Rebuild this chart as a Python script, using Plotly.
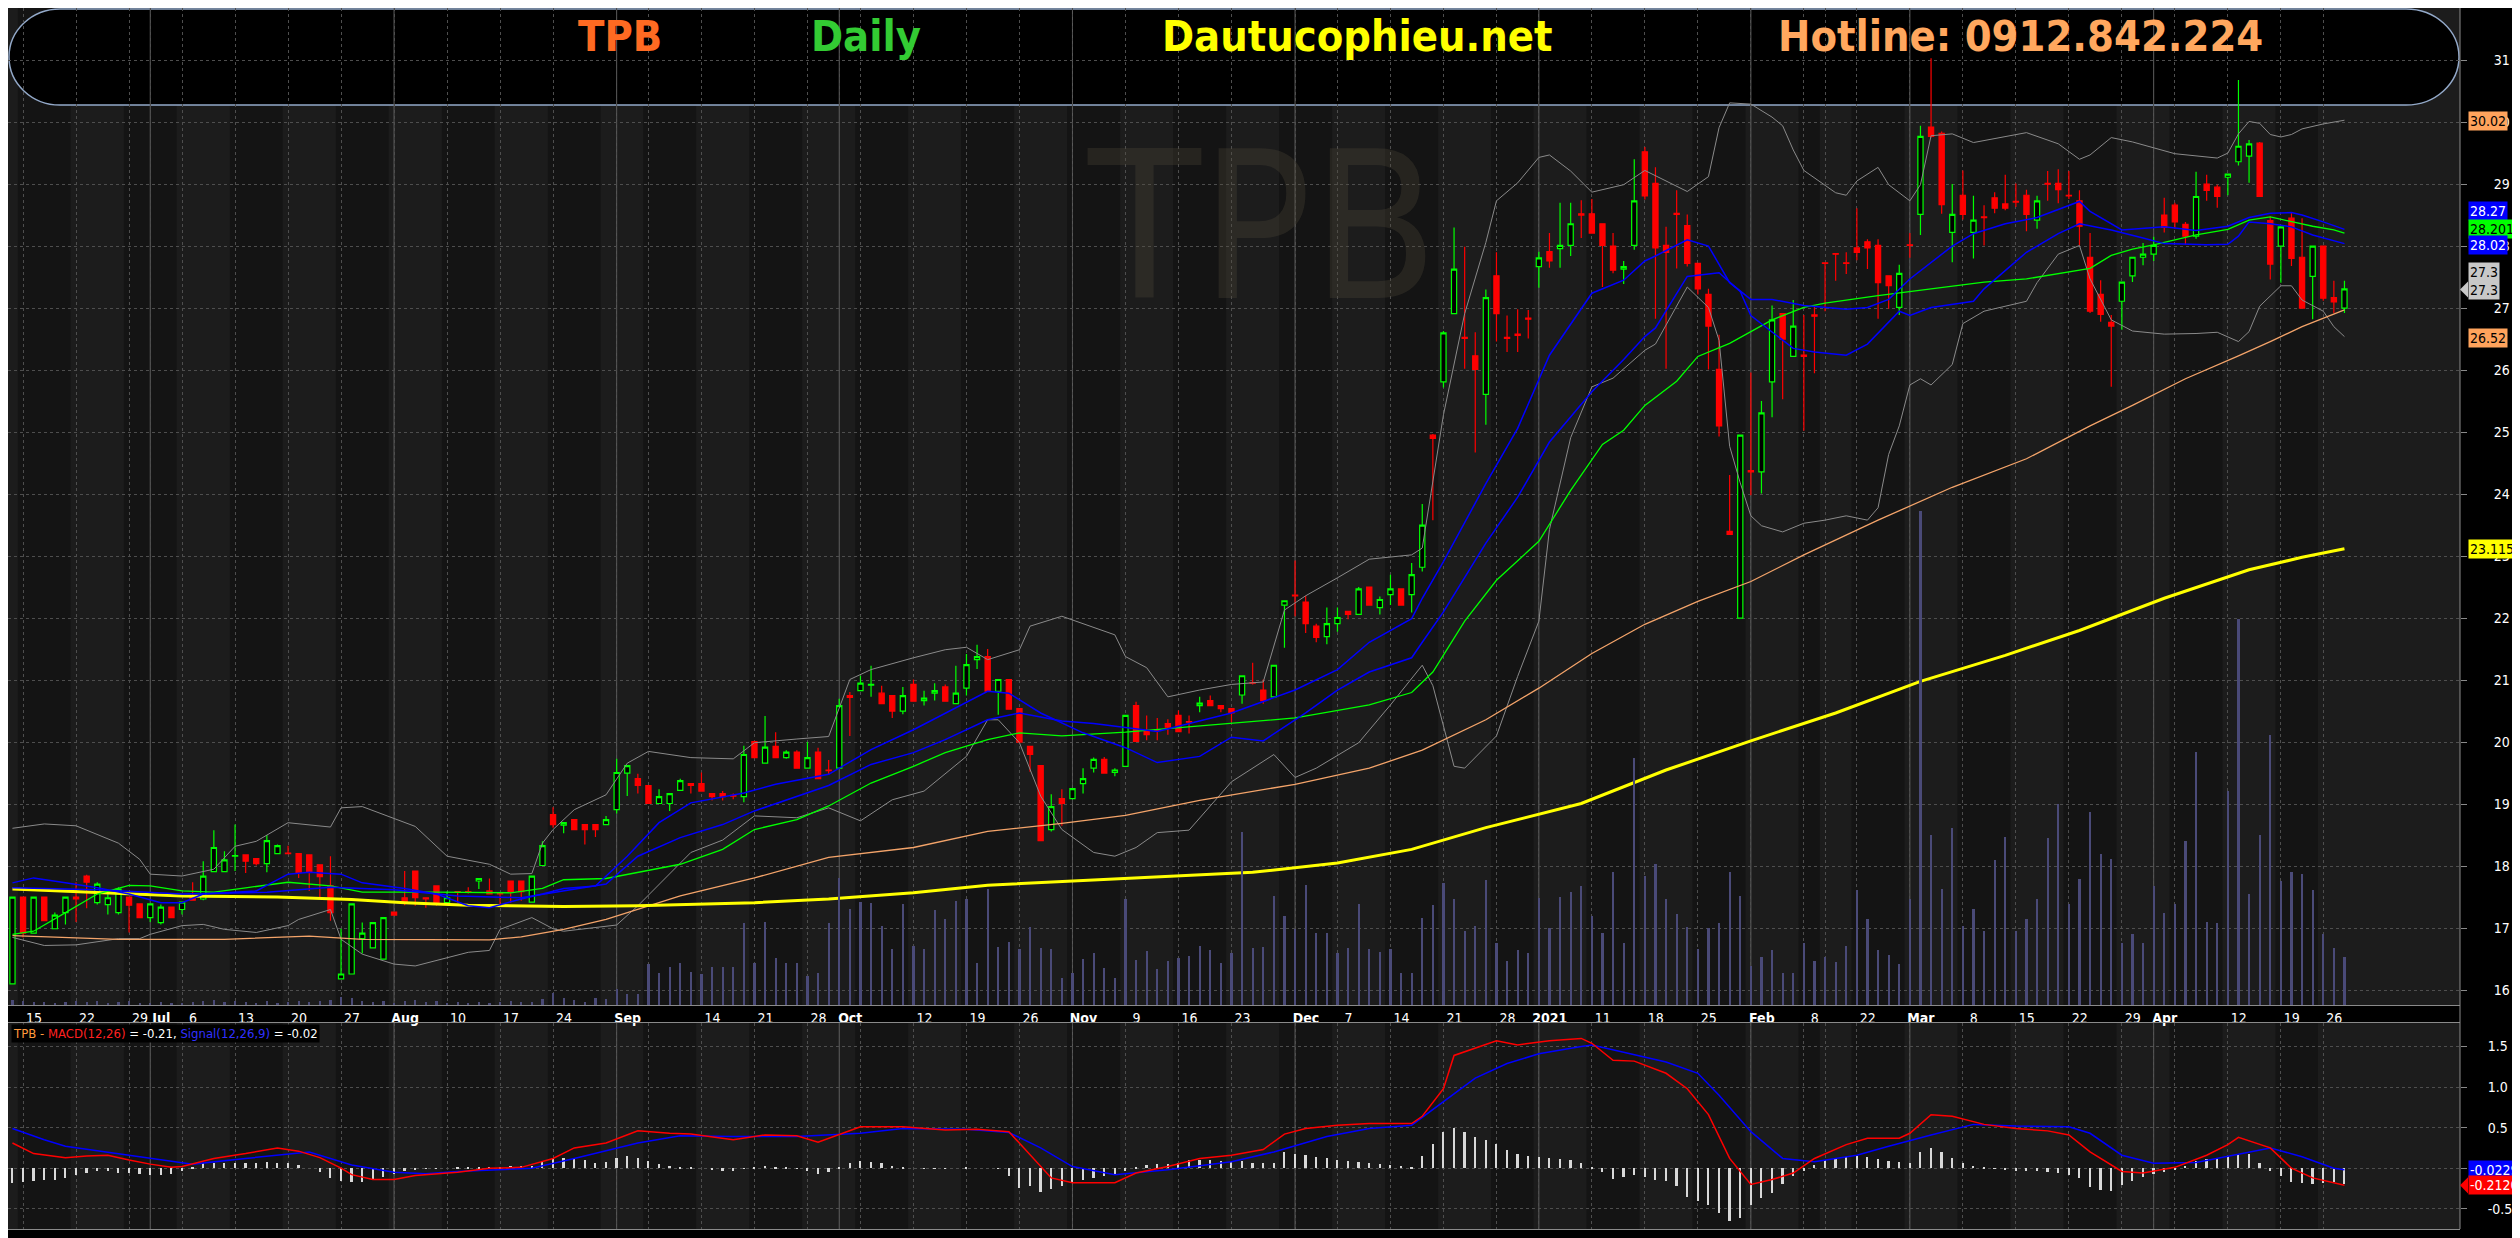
import pandas as pd
import plotly.graph_objects as go

# ---- trading calendar (HOSE) ----
START, END = "2020-06-12", "2021-04-28"
HOLIDAYS = ["2020-09-02", "2021-01-01", "2021-02-10", "2021-02-11", "2021-02-12",
            "2021-02-15", "2021-02-16", "2021-04-21"]
dates = [d.strftime("%Y-%m-%d") for d in pd.bdate_range(START, END)
         if d.strftime("%Y-%m-%d") not in HOLIDAYS]

# ---- OHLC ----
opens = [16.10,17.50,16.92,17.50,16.99,17.25,17.50,17.84,17.41,17.38,
         17.25,17.50,17.39,17.17,17.09,17.34,17.30,17.50,17.47,17.91,
         17.91,18.16,18.18,18.12,18.04,18.20,18.21,18.20,18.18,18.02,
         17.68,16.18,16.26,16.83,16.68,16.50,17.26,17.49,17.92,17.49,
         17.68,17.41,17.59,17.59,17.76,17.60,17.56,17.76,17.76,17.42,
         18.01,18.83,18.66,18.75,18.67,18.67,18.67,18.91,19.50,19.41,
         19.30,19.01,19.01,19.22,19.33,19.33,19.17,19.17,19.14,19.12,
         20.01,19.66,19.93,19.75,19.84,19.58,19.84,19.55,19.58,20.75,
         20.83,20.92,20.79,20.75,20.50,20.93,20.67,20.79,20.89,20.62,
         20.87,21.33,21.38,20.82,21.01,20.54,19.93,19.62,18.59,19.09,
         19.09,19.33,19.58,19.72,19.51,19.61,20.59,20.17,20.20,20.30,
         20.43,20.33,20.59,20.67,20.59,20.54,20.76,20.96,20.84,20.73,
         22.21,22.37,22.26,21.87,21.70,21.91,22.11,22.06,22.50,22.17,
         22.38,22.47,22.38,22.82,24.95,25.81,26.91,26.53,26.23,25.61,
         27.52,26.53,26.58,26.84,27.67,27.91,27.96,28.01,28.52,28.52,
         28.36,28.00,27.63,28.01,29.52,29.01,28.01,28.53,28.33,27.72,
         27.22,26.01,23.40,22.00,24.38,24.36,25.81,26.91,26.22,26.24,
         26.89,27.73,27.88,27.73,27.97,28.07,28.01,27.52,27.01,28.02,
         28.51,29.92,29.82,28.22,28.82,28.22,28.47,28.78,28.68,28.72,
         28.82,28.42,29.01,29.01,28.82,28.73,27.82,27.22,26.77,27.11,
         27.52,27.82,27.87,28.50,28.66,28.35,28.16,29.00,28.95,29.11,
         29.36,29.45,29.66,28.41,28.00,28.45,27.82,27.51,28.00,27.17,
         27.00]
highs = [17.50,17.50,17.50,17.50,17.25,17.50,17.74,17.86,17.74,17.58,
         17.66,17.50,17.39,17.39,17.38,17.34,17.42,17.74,18.08,18.58,
         18.24,18.67,18.18,18.12,18.50,18.35,18.33,18.20,18.18,18.02,
         18.16,16.99,17.39,17.09,17.09,17.17,17.26,17.92,17.92,17.49,
         17.68,17.59,17.59,17.66,17.80,17.80,17.56,17.76,17.76,17.84,
         18.40,18.95,18.70,18.75,18.67,18.67,18.81,19.73,19.62,19.49,
         19.30,19.24,19.17,19.41,19.33,19.51,19.17,19.21,19.17,19.94,
         20.01,20.42,20.16,19.87,19.87,20.00,19.91,19.71,20.70,20.81,
         21.07,21.23,20.91,20.75,20.89,21.01,20.83,20.95,20.93,21.23,
         21.42,21.57,21.50,21.01,21.01,20.54,19.93,19.62,19.16,19.24,
         19.25,19.58,19.75,19.76,19.58,20.43,20.65,20.43,20.39,20.37,
         20.51,20.43,20.73,20.75,20.59,20.54,21.07,21.28,21.01,21.24,
         22.28,22.93,22.36,21.91,22.17,22.17,22.11,22.50,22.50,22.35,
         22.70,22.47,22.89,23.84,24.97,26.63,28.30,27.99,26.61,27.30,
         27.90,26.88,26.98,26.97,27.91,28.21,28.70,28.70,28.74,28.76,
         28.36,28.21,27.76,29.40,29.60,29.27,28.31,28.90,28.51,27.72,
         27.31,26.57,24.31,24.95,25.96,25.50,27.04,26.91,27.13,26.89,
         27.03,27.73,27.88,27.90,28.61,28.11,28.11,27.52,27.70,28.21,
         29.94,31.03,29.85,29.00,29.22,28.81,28.66,28.87,29.15,29.01,
         28.91,28.81,29.21,29.24,29.21,28.90,28.21,27.45,26.89,27.42,
         27.82,28.05,28.15,28.78,28.70,28.39,29.20,29.15,28.99,29.16,
         30.68,29.71,29.68,28.48,28.31,28.54,28.45,28.00,28.00,27.44,
         27.44]
lows = [16.10,16.85,16.92,17.12,16.99,17.06,17.10,17.32,17.38,17.22,
        17.22,16.93,17.17,17.10,17.06,17.17,17.22,17.45,17.45,17.91,
        17.91,17.92,17.89,18.01,17.90,18.20,18.20,17.81,17.60,17.50,
        17.12,16.18,16.26,16.59,16.68,16.50,17.21,17.37,17.36,17.33,
        17.36,17.41,17.41,17.56,17.63,17.55,17.34,17.41,17.44,17.42,
        18.01,18.62,18.53,18.59,18.35,18.47,18.67,18.85,19.13,19.17,
        19.01,19.01,18.89,19.22,19.17,19.21,19.06,19.06,19.08,19.03,
        19.75,19.66,19.75,19.73,19.58,19.58,19.41,19.47,19.58,20.10,
        20.83,20.73,20.62,20.39,20.45,20.66,20.59,20.67,20.66,20.62,
        20.75,21.18,20.82,20.44,20.53,20.00,19.52,18.41,18.56,18.65,
        19.09,19.17,19.51,19.50,19.45,19.61,20.01,20.03,20.03,20.12,
        20.17,20.14,20.48,20.59,20.48,20.32,20.62,20.93,20.62,20.73,
        21.52,22.03,21.76,21.61,21.58,21.78,21.98,22.06,22.21,22.06,
        22.21,22.21,22.09,22.75,23.58,25.72,26.91,26.02,24.67,25.12,
        26.46,26.29,26.29,26.51,27.33,27.65,27.65,27.84,28.13,28.21,
        27.34,27.56,27.39,27.94,28.75,26.83,26.02,27.64,27.67,27.22,
        26.01,24.93,23.35,22.00,23.98,24.01,25.24,25.53,26.22,25.02,
        25.95,26.95,27.44,27.55,27.77,27.63,26.83,26.99,26.89,27.81,
        28.18,29.75,28.52,27.74,28.43,27.80,28.01,28.53,28.58,28.63,
        28.24,28.28,28.73,28.69,28.76,28.01,26.92,26.78,25.73,26.65,
        27.42,27.69,27.76,28.22,28.28,28.02,28.12,28.73,28.62,28.82,
        29.30,29.02,28.80,27.46,27.41,27.68,27.00,26.82,27.12,26.92,
        26.92]
closes = [17.50,16.92,17.50,17.12,17.21,17.50,17.47,17.74,17.71,17.49,
          17.63,17.37,17.17,17.39,17.34,17.17,17.42,17.45,17.84,18.30,
          18.10,18.17,18.08,18.04,18.41,18.33,18.20,17.90,17.90,17.83,
          17.25,16.26,17.39,16.92,17.09,17.17,17.21,17.41,17.49,17.47,
          17.41,17.49,17.58,17.58,17.80,17.55,17.55,17.59,17.59,17.84,
          18.33,18.67,18.70,18.59,18.59,18.59,18.75,19.51,19.62,19.30,
          19.01,19.12,19.17,19.38,19.30,19.21,19.12,19.12,19.13,19.80,
          19.75,19.92,19.75,19.84,19.58,19.75,19.41,19.54,20.59,20.72,
          20.95,20.93,20.62,20.50,20.75,20.66,20.71,20.83,20.66,20.79,
          21.25,21.38,20.82,21.01,20.53,20.00,19.80,18.41,18.96,19.01,
          19.25,19.41,19.72,19.50,19.55,20.43,20.01,20.12,20.19,20.24,
          20.17,20.32,20.63,20.59,20.54,20.47,21.07,20.95,20.67,21.24,
          22.28,22.36,21.91,21.69,21.91,22.01,22.06,22.47,22.21,22.30,
          22.47,22.21,22.70,23.50,24.90,26.60,27.63,26.51,26.01,27.17,
          26.91,26.51,26.56,26.82,27.81,27.76,28.01,28.36,28.50,28.21,
          28.01,27.61,27.67,28.73,28.81,27.97,27.90,28.51,27.72,27.31,
          26.71,25.10,23.35,24.95,24.36,25.31,26.81,26.50,26.71,26.22,
          26.87,27.72,27.87,27.72,27.90,27.97,27.41,27.36,27.56,28.01,
          29.77,29.77,28.67,28.51,28.51,28.42,28.46,28.61,28.61,28.71,
          28.51,28.73,29.00,28.91,28.81,28.32,26.95,26.90,26.71,27.42,
          27.82,27.87,28.01,28.30,28.39,28.16,28.80,28.90,28.80,29.16,
          29.61,29.65,28.80,27.71,28.31,27.80,27.00,28.00,27.16,27.10,
          27.31]

# volume, million shares
volume = [0.06,0.05,0.04,0.04,0.03,0.04,0.05,0.04,0.05,0.03,
          0.04,0.05,0.03,0.03,0.04,0.03,0.03,0.04,0.05,0.06,
          0.04,0.05,0.04,0.03,0.05,0.03,0.04,0.05,0.04,0.05,
          0.06,0.10,0.08,0.05,0.04,0.05,0.03,0.05,0.06,0.04,
          0.05,0.03,0.04,0.03,0.04,0.03,0.04,0.05,0.04,
          0.04,0.07,0.15,0.09,0.06,0.04,0.09,0.07,0.19,0.13,
          0.13,0.49,0.38,0.46,0.51,0.40,0.37,0.46,0.46,0.46,
          0.99,0.51,1.00,0.57,0.50,0.51,0.35,0.38,0.99,1.53,
          1.16,1.24,1.23,0.95,0.67,1.21,0.71,0.67,1.14,1.03,
          1.25,1.28,0.51,1.40,0.70,0.76,0.68,0.94,0.69,0.68,
          0.32,0.38,0.55,0.63,0.44,0.33,1.28,
          0.54,0.65,0.43,0.53,0.57,0.59,0.71,0.66,0.50,0.62,
          2.08,0.69,0.70,1.31,1.07,0.91,1.45,0.87,0.87,0.62,
          0.69,1.22,0.67,0.64,0.67,0.38,0.39,1.05,1.20,1.47,
          1.27,0.89,0.95,1.51,0.75,0.53,0.66,0.62,1.29,0.93,
          1.30,1.36,1.43,1.07,0.87,1.60,0.75,2.97,1.55,1.70,
          1.27,1.09,0.94,0.67,0.93,0.99,1.60,1.31,0.47,0.58,
          0.66,0.38,0.38,0.75,0.53,0.58,0.52,0.71,1.39,1.03,
          0.66,0.60,0.49,1.28,5.94,2.05,1.40,2.13,0.95,1.16,
          0.89,1.74,2.02,0.89,1.04,1.28,2.01,2.42,1.21,1.52,
          2.32,1.82,1.76,0.75,0.85,0.75,1.43,1.11,1.21,1.98,
          3.05,1.00,0.99,2.58,4.64,1.34,2.05,3.25,1.49,1.60,
          1.58,1.39,0.85,0.69,0.58]

# ---- indicator lines, sampled along the chart (trading-day number, value) ----
ma200_day = [0,8,16,25,32,37,43,52,59,70,77,85,92,101,110,117,125,132,139,148,
             156,164,172,180,188,195,203,211,216,220]
ma200_val = [17.63,17.58,17.52,17.50,17.46,17.41,17.37,17.35,17.36,17.41,17.47,17.57,17.69,17.77,
             17.84,17.90,18.05,18.27,18.62,19.01,19.55,20.02,20.47,20.98,21.40,21.80,22.32,22.78,
             22.98,23.12]

ma50_day = [0,10,20,28,33,45,48,52,56,63,70,77,85,92,99,105,112,121,128,133,
            139,144,149,154,159,164,169,176,183,190,196,200,205,208,210,213,216,220]
ma50_val = [16.88,16.82,16.82,16.87,16.82,16.81,16.86,16.98,17.14,17.52,17.81,18.14,18.30,18.56,
            18.69,18.82,19.06,19.32,19.58,19.87,20.36,20.87,21.43,21.90,22.27,22.59,23.02,23.58,
            24.11,24.57,25.10,25.43,25.86,26.08,26.23,26.46,26.70,26.97]

bbu_day = [0,3,6,10,12,13,16,19,21,23,26,30,31,33,38,41,45,47,49,50,
           51,53,56,58,60,64,68,70,74,77,79,81,85,88,90,92,95,96,99,102,
           104,105,107,109,112,115,118,120,122,125,128,132,133,135,137,139,140,142,144,145,
           147,149,152,154,156,158,160,161,162,164,166,167,168,169,172,173,174,176,177,179,
           180,181,183,185,190,193,195,196,198,200,204,208,209,210,211,212,213,214,215,216,
           218,220]
bbu_val = [18.61,18.68,18.65,18.37,18.11,17.87,17.84,17.95,18.32,18.40,
           18.70,18.63,18.94,18.96,18.64,18.16,18.03,17.87,17.88,18.37,
           18.59,18.91,19.15,19.66,19.85,19.75,19.73,19.99,20.05,20.09,
           21.01,21.17,21.36,21.49,21.53,21.33,21.49,21.87,22.03,21.85,
           21.73,21.38,21.20,20.73,20.84,20.93,20.97,22.13,22.36,22.65,
           22.95,23.02,23.13,25.28,26.91,28.06,28.73,29.02,29.43,29.47,
           29.21,28.87,28.99,29.22,29.05,28.88,29.12,29.91,30.31,30.29,
           30.08,29.94,29.55,29.22,28.86,28.82,29.05,29.27,28.99,28.73,
           28.99,29.78,29.81,29.67,29.83,29.65,29.40,29.47,29.75,29.68,
           29.49,29.42,29.50,29.81,30.01,29.98,29.80,29.76,29.80,29.89,
           29.97,30.03]

bbl_day = [0,3,6,10,12,13,16,18,20,23,26,27,30,31,33,36,38,40,43,45,
           46,49,51,52,57,59,64,67,70,74,77,80,83,86,90,92,93,95,97,99,
           102,104,106,108,111,115,119,121,123,127,130,133,134,136,137,140,142,144,145,147,
           149,151,154,155,158,160,161,162,163,164,165,167,169,171,173,175,176,177,178,179,
           180,181,183,184,186,190,191,193,195,196,198,200,203,206,208,210,211,212,214,215,
           216,218,219,220]
bbl_val = [16.85,16.72,16.73,16.83,16.83,16.90,17.04,17.06,16.98,16.93,
           17.04,17.14,17.30,16.82,16.58,16.42,16.39,16.48,16.61,16.64,
           16.98,17.17,16.99,16.95,17.05,17.36,18.22,18.42,18.81,18.78,
           18.94,18.73,19.07,19.21,19.77,20.36,20.36,19.99,19.13,18.59,
           18.22,18.16,18.30,18.54,18.58,19.36,19.80,19.43,19.58,19.99,
           20.60,21.24,20.91,19.61,19.58,20.10,21.06,21.95,23.43,24.91,
           25.73,25.87,26.32,26.42,27.34,27.01,26.48,24.77,24.18,23.65,
           23.49,23.39,23.53,23.58,23.65,23.58,23.78,24.64,25.10,25.76,
           25.86,25.76,26.09,26.75,26.95,27.11,27.41,27.87,28.01,27.47,
           26.81,26.63,26.58,26.59,26.61,26.46,26.62,27.03,27.36,27.36,
           27.13,26.95,26.70,26.54]

ma20_day = [0,2,5,8,11,13,16,19,22,26,30,33,40,47,50,52,56,63,67,70,
            74,77,81,85,88,92,95,99,105,112,121,128,132,134,137,140,144,147,150,152,
            154,157,159,162,166,169,171,176,180,183,186,190,193,196,198,200,202,204,206,209,
            211,213,215,217,219,220]
ma20_val = [16.90,16.95,17.25,17.55,17.69,17.68,17.60,17.58,17.65,17.74,
            17.68,17.58,17.58,17.57,17.64,17.78,17.80,18.03,18.27,18.59,
            18.75,18.97,19.34,19.61,19.83,20.04,20.15,20.10,20.16,20.26,
            20.39,20.60,20.80,21.13,21.95,22.61,23.24,24.06,24.80,25.03,
            25.43,25.82,26.22,26.43,26.81,27.01,27.08,27.20,27.29,27.35,
            27.42,27.47,27.55,27.64,27.85,27.95,28.02,28.10,28.18,28.27,
            28.42,28.47,28.39,28.32,28.26,28.21]

blue_a_day = [0,8,16,24,30,36,42,48,56,59,63,67,70,74,77,81,85,88,92,95,
              99,102,105,108,115,121,125,128,132,133,135,139,142,145,149,152,154,155,158,160,
              162,164,166,169,173,175,177,179,183,185,188,191,195,196,199,201,203,206,209,211,
              213,215,216,218,220]
blue_a_val = [17.65,17.62,17.55,17.58,17.66,17.62,17.52,17.49,17.71,18.16,
              18.46,18.67,18.89,19.13,19.30,19.64,19.83,20.04,20.36,20.47,
              20.34,20.30,20.23,20.17,20.47,20.84,21.17,21.61,21.99,22.32,
              22.91,24.17,25.06,26.24,27.24,27.45,27.76,27.84,28.10,28.00,
              27.41,27.14,27.14,27.04,26.98,27.01,27.14,27.47,28.00,28.20,
              28.36,28.46,28.72,28.56,28.26,28.28,28.31,28.25,28.32,28.46,
              28.53,28.54,28.50,28.39,28.27]

blue_b_day = [0,2,5,8,11,14,16,18,23,26,28,31,33,37,40,43,45,48,50,52,
              55,58,61,64,69,72,77,81,85,88,92,94,97,101,105,108,112,115,118,122,
              125,128,132,133,135,139,142,145,149,152,154,155,158,161,163,164,168,170,173,175,
              178,179,181,185,186,190,193,195,198,201,203,207,209,210,211,213,215,217,220]
blue_b_val = [17.73,17.81,17.73,17.65,17.55,17.41,17.41,17.55,17.60,17.87,
              17.90,17.87,17.73,17.64,17.55,17.36,17.33,17.47,17.55,17.64,
              17.68,18.16,18.70,19.02,19.18,19.32,19.48,19.88,20.20,20.47,
              20.82,20.79,20.47,20.15,19.91,19.67,19.77,20.08,20.02,20.47,
              20.84,21.13,21.36,21.61,22.10,23.21,23.95,24.84,25.65,26.17,
              26.54,26.68,27.51,27.57,27.27,26.88,26.35,26.29,26.24,26.42,
              26.95,26.88,27.01,27.11,27.31,27.90,28.20,28.36,28.26,28.13,
              28.04,28.02,28.03,28.16,28.39,28.36,28.31,28.18,28.04]

macd_day = [0,1,2,5,7,9,11,13,15,16,19,22,25,27,29,31,32,34,36,38,
            42,45,48,51,53,56,59,62,64,68,71,74,76,80,84,88,91,94,96,98,
            100,104,106,109,112,115,118,120,122,125,128,132,133,135,136,138,140,142,145,148,
            149,151,153,156,158,160,162,164,166,168,170,173,175,178,179,181,183,186,189,192,
            194,196,199,201,204,207,209,210,213,215,217,220]
macd_val = [0.31,0.25,0.18,0.13,0.15,0.16,0.10,0.05,0.01,0.02,
            0.12,0.18,0.25,0.21,0.13,0.00,-0.08,-0.14,-0.14,-0.09,
            -0.05,0.00,0.01,0.12,0.25,0.31,0.46,0.43,0.42,0.35,
            0.41,0.40,0.32,0.51,0.51,0.47,0.48,0.45,0.16,-0.12,
            -0.18,-0.18,-0.06,0.02,0.12,0.16,0.23,0.42,0.49,0.53,
            0.55,0.55,0.64,0.98,1.39,1.48,1.57,1.52,1.57,1.60,
            1.54,1.33,1.32,1.17,0.98,0.66,0.12,-0.20,-0.14,-0.06,
            0.12,0.29,0.37,0.37,0.43,0.66,0.64,0.54,0.49,0.46,
            0.41,0.20,-0.04,-0.06,0.01,0.16,0.29,0.38,0.25,0.00,
            -0.12,-0.21]

signal_day = [0,3,5,10,14,17,22,28,32,36,39,42,49,53,59,63,68,74,80,84,
              90,94,97,100,104,109,115,119,124,128,132,135,138,141,144,148,149,152,156,159,
              161,164,167,170,174,177,181,185,189,194,196,199,202,206,210,213,216,219,220]
signal_val = [0.49,0.35,0.27,0.18,0.10,0.05,0.12,0.20,0.04,-0.05,
              -0.07,-0.04,0.00,0.12,0.31,0.40,0.39,0.39,0.43,0.49,
              0.48,0.44,0.25,0.02,-0.08,-0.02,0.08,0.20,0.39,0.49,
              0.53,0.82,1.11,1.29,1.41,1.50,1.52,1.43,1.31,1.17,
              0.90,0.45,0.12,0.08,0.16,0.27,0.41,0.54,0.52,0.51,
              0.43,0.16,0.06,0.07,0.17,0.25,0.14,0.00,-0.02]

macd_hist = [-0.18,-0.17,-0.16,-0.15,-0.14,-0.12,-0.09,-0.06,-0.03,-0.03,
             -0.06,-0.06,-0.07,-0.08,-0.08,-0.07,-0.04,0.01,0.06,0.06,
             0.06,0.06,0.07,0.07,0.08,0.07,0.07,0.04,0.00,-0.05,
             -0.12,-0.16,-0.17,-0.17,-0.14,-0.11,-0.07,-0.04,-0.02,-0.01,
             -0.01,0.00,0.02,0.02,0.02,0.02,0.02,0.03,0.03,0.03,
             0.09,0.11,0.13,0.12,0.10,0.07,0.08,0.13,0.15,0.12,
             0.09,0.05,0.03,0.02,0.01,0.00,-0.02,-0.03,-0.04,-0.01,
             0.02,0.03,0.02,0.01,-0.01,-0.04,-0.07,-0.05,0.02,0.07,
             0.09,0.08,0.06,0.03,0.01,0.00,-0.01,-0.01,-0.01,0.00,
             0.01,0.00,0.00,-0.01,-0.10,-0.24,-0.22,-0.29,-0.26,-0.22,
             -0.17,-0.14,-0.12,-0.10,-0.07,-0.03,0.01,0.04,0.05,0.05,
             0.07,0.10,0.10,0.10,0.09,0.08,0.09,0.07,0.06,0.06,
             0.20,0.18,0.16,0.14,0.12,0.10,0.09,0.08,0.06,0.05,
             0.04,0.03,0.02,0.15,0.30,0.45,0.49,0.45,0.39,0.35,
             0.30,0.23,0.18,0.15,0.14,0.12,0.11,0.10,0.07,0.02,
             -0.05,-0.13,-0.11,-0.08,-0.11,-0.14,-0.16,-0.22,-0.35,-0.40,
             -0.45,-0.55,-0.65,-0.62,-0.45,-0.37,-0.30,-0.20,-0.10,-0.04,
             0.04,0.10,0.13,0.14,0.15,0.14,0.11,0.09,0.08,0.06,
             0.20,0.25,0.20,0.13,0.06,0.03,0.01,-0.01,-0.02,-0.03,
             -0.04,-0.04,-0.05,-0.06,-0.08,-0.12,-0.23,-0.27,-0.28,-0.21,
             -0.16,-0.11,-0.07,-0.05,-0.02,0.03,0.09,0.11,0.13,0.15,
             0.18,0.17,0.06,-0.03,-0.10,-0.17,-0.18,-0.19,-0.18,-0.17,
             -0.19]

# ---- axis labels ----
tick_dates = ["2020-06-15","2020-06-22","2020-06-29","2020-07-01","2020-07-06","2020-07-13",
              "2020-07-20","2020-07-27","2020-08-03","2020-08-10","2020-08-17","2020-08-24",
              "2020-09-01","2020-09-07","2020-09-14","2020-09-21","2020-09-28","2020-10-01",
              "2020-10-05","2020-10-12","2020-10-19","2020-10-26","2020-11-02","2020-11-09",
              "2020-11-16","2020-11-23","2020-12-01","2020-12-07","2020-12-14","2020-12-21",
              "2020-12-28","2021-01-04","2021-01-11","2021-01-18","2021-01-25","2021-02-01",
              "2021-02-08","2021-02-17","2021-02-22","2021-03-01","2021-03-08","2021-03-15",
              "2021-03-22","2021-03-29","2021-04-01","2021-04-05","2021-04-12","2021-04-19",
              "2021-04-26"]
tick_text = ["15","22","29","<b>Jul</b>","6","13","20","27","<b>Aug</b>","10","17","24",
             "<b>Sep</b>","","14","21","28","<b>Oct</b>","","12","19","26","<b>Nov</b>","9",
             "16","23","<b>Dec</b>","7","14","21","28","<b>2021</b>","11","18","25","<b>Feb</b>",
             "8","","22","<b>Mar</b>","8","15","22","29","<b>Apr</b>","","12","19","26"]
month_starts = ["2020-07-01","2020-08-03","2020-09-01","2020-10-01","2020-11-02",
                "2020-12-01","2021-01-04","2021-02-01","2021-03-01","2021-04-01"]
price_ticks = list(range(16, 32))
macd_ticks = [-0.5, 0.0, 0.5, 1.0, 1.5]
macd_ticktext = ["-0.5", "0.0", "0.5", "1.0", "1.5"]

FONT = "DejaVu Sans Condensed, DejaVu Sans, Liberation Sans, Arial"
XR = [-0.42, 230.9]
YR = [15.76, 31.84]
YR2 = [-0.75, 1.79]
PLOT_W, PRICE_H, AREA_W, AREA_H = 2452, 997, 2516, 1221
XDOM = PLOT_W / AREA_W

fig = go.Figure()

fig.add_bar(x=dates, y=volume, yaxis="y3", width=0.2,
            marker=dict(color="#4a4a78", line=dict(width=0)), hoverinfo="skip")
fig.add_candlestick(x=dates, open=opens, high=highs, low=lows, close=closes,
                    increasing=dict(line=dict(color="#00ff00", width=1.2), fillcolor="#000000"),
                    decreasing=dict(line=dict(color="#ff0000", width=1.2), fillcolor="#ff0000"),
                    hoverinfo="skip")


def add_line(days, vals, color, width, xa="x", ya="y"):
    fig.add_scatter(x=[dates[i] for i in days], y=vals, mode="lines",
                    line=dict(color=color, width=width), xaxis=xa, yaxis=ya, hoverinfo="skip")


add_line(bbu_day, bbu_val, "#8a8a8a", 1)
add_line(bbl_day, bbl_val, "#8a8a8a", 1)
add_line(ma50_day, ma50_val, "#f4a46a", 1.3)
add_line(ma200_day, ma200_val, "#ffff00", 3)
add_line(ma20_day, ma20_val, "#00ff00", 1.3)
add_line(blue_a_day, blue_a_val, "#0000ff", 1.5)
add_line(blue_b_day, blue_b_val, "#0000ff", 1.5)

# MACD panel
fig.add_bar(x=dates, y=macd_hist, xaxis="x2", yaxis="y2", width=0.16,
            marker=dict(color="#d8d8d8", line=dict(width=0)), hoverinfo="skip")
add_line(signal_day, signal_val, "#0000ff", 1.5, "x2", "y2")
add_line(macd_day, macd_val, "#ff0000", 1.5, "x2", "y2")

# ---- background shapes ----
shapes = []
week_starts, prev = [], None
for i, d in enumerate(dates):
    wk = pd.Timestamp(d).isocalendar()[:2]
    if wk != prev:
        week_starts.append(i)
        prev = wk
week_starts.append(len(dates) + 20)
nw = len(week_starts) - 1
for k in range(nw):
    if (nw - 1 - k) % 2 == 1:
        for xr, yr, rng in (("x", "y", YR), ("x2", "y2", YR2)):
            shapes.append(dict(type="rect", xref=xr, yref=yr, layer="below",
                               x0=week_starts[k] - 0.5, x1=week_starts[k + 1] - 0.5,
                               y0=rng[0], y1=rng[1], fillcolor="#141414", line=dict(width=0)))


def px2x(px):
    return XR[0] + px / PLOT_W * (XR[1] - XR[0])


def py2y(py):
    return YR[1] - py / PRICE_H * (YR[1] - YR[0])


# rounded title box (pixel outline converted to axis units)
pts = [("M", [(52, 1)]), ("L", [(2398, 1)]),
       ("C", [(2427.3, 1), (2451, 22.5), (2451, 49)]),
       ("C", [(2451, 75.5), (2427.3, 97), (2398, 97)]),
       ("L", [(52, 97)]),
       ("C", [(23.8, 97), (1, 75.5), (1, 49)]),
       ("C", [(1, 22.5), (23.8, 1), (52, 1)])]
path = " ".join(cmd + " " + " ".join(f"{px2x(a):.4f},{py2y(b):.4f}" for a, b in p) for cmd, p in pts) + " Z"
shapes.append(dict(type="path", xref="x", yref="y", layer="below", path=path,
                   fillcolor="#000000", line=dict(color="#93a9c9", width=1.5)))

for m in month_starts:
    idx = dates.index(m)
    for xr, yr, rng in (("x", "y", YR), ("x2", "y2", YR2)):
        shapes.append(dict(type="line", xref=xr, yref=yr, layer="below", x0=idx, x1=idx,
                           y0=rng[0], y1=rng[1], line=dict(color="#5e5e5e", width=1)))

# right-edge frame line
shapes.append(dict(type="line", xref="paper", yref="paper", x0=XDOM, x1=XDOM, y0=0, y1=1,
                   line=dict(color="#8a8a8a", width=1)))

# value-tag arrows
ax0, ax1 = XDOM, 2460 / AREA_W
shapes.append(dict(type="path", xref="paper", yref="y", layer="above",
                   path=f"M {ax0},27.3 L {ax1},27.43 L {ax1},27.17 Z",
                   fillcolor="#c8c8c8", line=dict(width=0)))
shapes.append(dict(type="path", xref="paper", yref="y2", layer="above",
                   path=f"M {ax0},-0.212 L {ax1},-0.112 L {ax1},-0.312 Z",
                   fillcolor="#ff0000", line=dict(width=0)))

# ---- annotations ----
ann = []
header = [("TPB", "#ff6a22", 612), ("Daily", "#33cc33", 858),
          ("Dautucophieu.net", "#ffff00", 1349), ("Hotline: 0912.842.224", "#ffa75e", 2012)]
for txt, col, cx in header:
    ann.append(dict(text=f"<b>{txt}</b>", xref="paper", yref="paper", x=cx / AREA_W,
                    y=1 - 28 / AREA_H, xanchor="center", yanchor="middle", showarrow=False,
                    font=dict(family=FONT, size=43, color=col)))

ann.append(dict(text="TPB", xref="paper", yref="paper", x=1254 / AREA_W, y=1 - 219 / AREA_H,
                xanchor="center", yanchor="middle", showarrow=False,
                font=dict(family=FONT, size=205, color="rgba(82,76,61,0.30)")))

price_tags = [("30.02", "#ffa35c", "#000000", 0), ("28.27", "#0000ff", "#ffffff", 18),
              ("28.2014", "#00ff00", "#000000", 5), ("28.02", "#0000ff", "#ffffff", 0),
              ("27.3<br>27.3", "#c8c8c8", "#000000", 8), ("26.52", "#ffa35c", "#000000", 0),
              ("23.115", "#ffff00", "#000000", 0)]
for txt, bg, fc, shift in price_tags:
    ann.append(dict(text=txt, xref="paper", yref="y", x=ax1, y=float(txt.split("<br>")[0]),
                    xanchor="left", yanchor="middle", yshift=shift, showarrow=False,
                    bgcolor=bg, borderpad=1, align="left",
                    font=dict(family=FONT, size=14, color=fc)))
for txt, yv, bg in (("-0.022952", -0.02295, "#0000ff"), ("-0.212007", -0.212, "#ff0000")):
    ann.append(dict(text=txt, xref="paper", yref="y2", x=ax1, y=yv, xanchor="left",
                    yanchor="middle", showarrow=False, bgcolor=bg, borderpad=1,
                    font=dict(family=FONT, size=14, color="#ffffff")))

ann.append(dict(text=("<span style='color:#ff9a3c'>TPB - </span>"
                      "<span style='color:#ff2020'>MACD(12,26)</span>"
                      "<span style='color:#ffffff'> = -0.21, </span>"
                      "<span style='color:#3030ff'>Signal(12,26,9)</span>"
                      "<span style='color:#ffffff'> = -0.02</span>"),
                xref="paper", yref="paper", x=3 / AREA_W, y=1 - 1025 / AREA_H,
                xanchor="left", yanchor="middle", showarrow=False, bgcolor="#000000",
                font=dict(family=FONT, size=13)))

grid = dict(showgrid=True, gridcolor="#4e4e4e", griddash="dot", gridwidth=1, zeroline=False)
yticks = dict(side="right", anchor="x", ticks="outside", ticklen=6, tickcolor="#8a8a8a",
              tickfont=dict(size=14, color="#ffffff"), showline=False, automargin=False)

fig.update_layout(
    width=2520, height=1238,
    margin=dict(l=0, r=4, t=0, b=17),
    paper_bgcolor="#000000", plot_bgcolor="#1c1c1c",
    font=dict(family=FONT, color="#ffffff", size=14),
    showlegend=False, bargap=0,
    shapes=shapes, annotations=ann,
    xaxis=dict(domain=[0, XDOM], anchor="y", type="category", range=XR,
               tickmode="array", tickvals=tick_dates, ticktext=tick_text, ticks="",
               ticklabelshift=11, tickfont=dict(size=14, color="#ffffff"),
               showline=True, mirror=True, linecolor="#8a8a8a",
               rangeslider=dict(visible=False), **grid),
    xaxis2=dict(domain=[0, XDOM], anchor="y2", type="category", matches="x", range=XR,
                tickmode="array", tickvals=tick_dates, showticklabels=False, ticks="",
                showline=True, mirror=True, linecolor="#8a8a8a", **grid),
    yaxis=dict(domain=[1 - PRICE_H / AREA_H, 1], range=YR, tickmode="array",
               tickvals=price_ticks, ticklabelstandoff=24, **yticks, **grid),
    yaxis3=dict(overlaying="y", range=[0, 12], visible=False),
    yaxis2=dict(domain=[0, 1 - 1015 / AREA_H], range=YR2, tickmode="array",
                tickvals=macd_ticks, ticktext=macd_ticktext, ticklabelstandoff=18,
                **yticks, **grid),
)

fig.write_html("out.html")
